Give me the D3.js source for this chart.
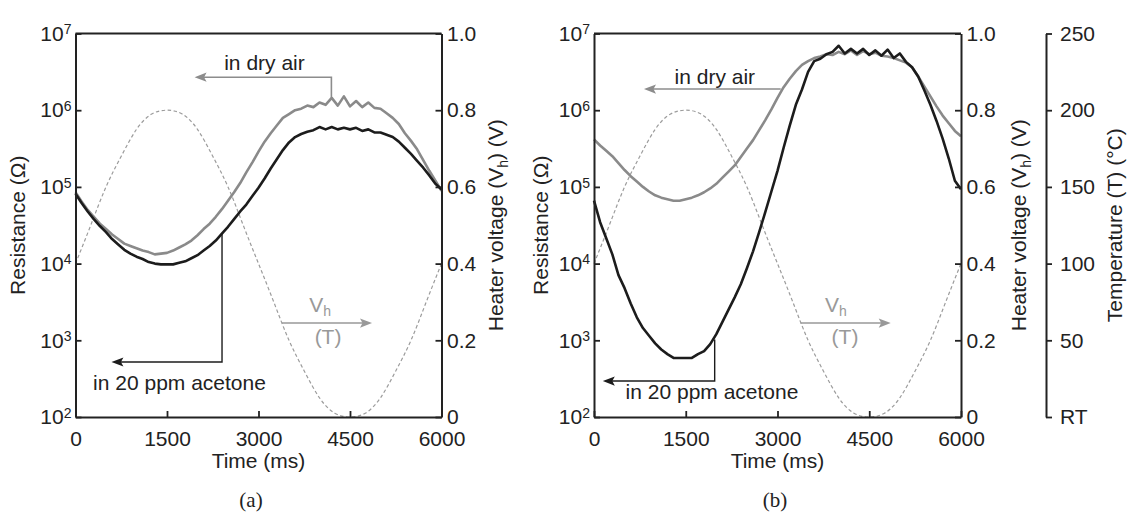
<!DOCTYPE html>
<html>
<head>
<meta charset="utf-8">
<script src="https://cdn.jsdelivr.net/npm/d3@7"></script>
<style>
  body { margin: 0; background: #fff; }
  svg { display: block; }
</style>
</head>
<body>
<svg id="chart" width="1129" height="525"></svg>
<script>
// ---------------- DATA ----------------
// time axis (ms) for resistance traces
const time = [0,100,200,300,400,500,600,700,800,900,
  1000,1100,1200,1300,1400,1500,1600,1700,1800,1900,
  2000,2100,2200,2300,2400,2500,2600,2700,2800,2900,
  3000,3100,3200,3300,3400,3500,3600,3700,3800,3900,
  4000,4100,4200,4300,4400,4500,4600,4700,4800,4900,
  5000,5100,5200,5300,5400,5500,5600,5700,5800,5900,
  6000];

// log10(Resistance / Ω), panel (a)
const airA_log = [4.93,4.81,4.70,4.61,4.52,4.45,4.38,4.32,4.26,4.23,
  4.20,4.17,4.15,4.12,4.13,4.14,4.17,4.21,4.25,4.30,
  4.37,4.45,4.52,4.61,4.71,4.82,4.93,5.05,5.19,5.32,
  5.46,5.59,5.70,5.80,5.90,5.95,6.00,6.02,6.06,6.04,
  6.10,6.07,6.16,6.06,6.18,6.05,6.12,6.04,6.10,6.03,
  6.02,5.96,5.90,5.82,5.70,5.60,5.49,5.35,5.21,5.08,
  4.95];
const acetoneA_log = [4.91,4.79,4.68,4.58,4.49,4.41,4.32,4.25,4.18,4.13,
  4.09,4.06,4.02,4.00,3.99,3.99,3.99,4.01,4.03,4.07,
  4.11,4.17,4.23,4.30,4.39,4.48,4.58,4.68,4.77,4.88,
  4.99,5.11,5.24,5.36,5.48,5.58,5.65,5.69,5.72,5.74,
  5.78,5.75,5.78,5.75,5.77,5.75,5.77,5.73,5.75,5.71,
  5.71,5.68,5.65,5.59,5.51,5.43,5.34,5.25,5.15,5.04,
  4.97];

// log10(Resistance / Ω), panel (b)
const airB_log = [5.62,5.54,5.47,5.40,5.31,5.22,5.14,5.07,5.00,4.94,
  4.89,4.86,4.84,4.82,4.82,4.84,4.86,4.89,4.93,4.98,
  5.04,5.12,5.20,5.28,5.39,5.50,5.61,5.74,5.87,6.01,
  6.16,6.30,6.41,6.51,6.59,6.64,6.68,6.70,6.73,6.72,
  6.76,6.73,6.78,6.72,6.77,6.73,6.75,6.71,6.70,6.68,
  6.65,6.62,6.56,6.44,6.31,6.18,6.05,5.93,5.83,5.73,
  5.66];
const acetoneB_log = [4.82,4.54,4.33,4.12,3.85,3.68,3.48,3.30,3.16,3.06,
  2.96,2.88,2.82,2.77,2.77,2.77,2.77,2.82,2.86,2.95,
  3.08,3.24,3.40,3.56,3.73,3.94,4.16,4.41,4.67,4.94,
  5.21,5.51,5.80,6.07,6.27,6.50,6.64,6.67,6.73,6.76,
  6.84,6.74,6.80,6.74,6.80,6.72,6.78,6.71,6.79,6.68,
  6.74,6.63,6.56,6.44,6.26,6.07,5.86,5.63,5.37,5.08,
  4.97];

// heater voltage (V)
const vTime = [0,250,500,750,1000,1250,1500,1750,2000,2250,2500,2750,3000,
  3250,3500,3750,4000,4250,4500,4750,5000,5250,5500,5750,6000];
const heaterV = [0.40,0.50,0.60,0.68,0.75,0.79,0.80,0.79,0.75,0.68,0.60,0.50,0.40,
  0.30,0.20,0.12,0.05,0.01,0.00,0.01,0.05,0.12,0.20,0.30,0.40];

// ticks
const timeTicks = [0,1500,3000,4500,6000];
const resTicks = [1e2,1e3,1e4,1e5,1e6,1e7];
const voltTicks = [0,0.2,0.4,0.6,0.8,1.0];
const voltLabels = ["0","0.2","0.4","0.6","0.8","1.0"];
const tempTicks = [0,50,100,150,200,250];
const tempLabels = ["RT","50","100","150","200","250"];

// annotation anchors (data coordinates: time ms, log10 R, or V)
const annotA = {
  dry:  {vx:4195, yFrom:6.17, yTo:6.43, tipT:1952, textT:3098, textY:6.524},
  ace:  {vx:2402, yFrom:4.39, yTo:2.717, tipT:589, textT:1705, textY:2.352},
  vh:   {fromT:3385, toT:4861, v:0.245, vhT:4010, vhV:0.274, tT:4140, tV:0.190}
};
const annotB = {
  dry:  {vx:3052, yFrom:6.276, yTo:6.276, tipT:817, textT:1976, textY:6.348},
  ace:  {vx:1973, yFrom:3.01, yTo:2.469, tipT:144, textT:1929, textY:2.235},
  vh:   {fromT:3379, toT:4851, v:0.245, vhT:3956, vhV:0.274, tT:4104, tV:0.190}
};

// ---------------- DRAW ----------------
const FONT = '"Liberation Sans", Arial, Helvetica, sans-serif';
const FS = 21;
const Y_TOP = 33.5, Y_BOT = 417;
const AX = '#222';
const svg = d3.select('#chart');
svg.append('rect').attr('width',1129).attr('height',525).attr('fill','#fff');

function styleAxis(g){
  g.attr('font-family', FONT).attr('font-size', FS);
  g.select('.domain').attr('stroke', AX).attr('stroke-width', 2);
  g.selectAll('.tick line').attr('stroke', AX).attr('stroke-width', 1.8);
  g.selectAll('.tick text').attr('fill', AX);
}

function arrowHead(g, tx, ty, dir, color){
  const L = 12, W = 4.6, N = 2.5;
  g.append('path')
    .attr('d', `M${tx},${ty}L${tx - dir*L},${ty - W}L${tx - dir*(L-N)},${ty}L${tx - dir*L},${ty + W}Z`)
    .attr('fill', color);
}

function panel(cfg){
  const g = svg.append('g');
  const x = d3.scaleLinear().domain([0,6000]).range([cfg.x0, cfg.x1]);
  const y = d3.scaleLog().domain([1e2,1e7]).range([Y_BOT, Y_TOP]);
  const yv = d3.scaleLinear().domain([0,1]).range([Y_BOT, Y_TOP]);
  const yl = v => y(Math.pow(10, v));

  // heater voltage (dashed)
  g.append('path')
    .datum(vTime.map((t,i)=>[t, heaterV[i]]))
    .attr('d', d3.line().x(d=>x(d[0])).y(d=>yv(d[1])).curve(d3.curveNatural))
    .attr('fill','none').attr('stroke','#9c9c9c').attr('stroke-width',1.2)
    .attr('stroke-dasharray','3.5,2.5');

  const rl = d3.line().x(d=>x(d[0])).y(d=>yl(d[1]));
  g.append('path').datum(time.map((t,i)=>[t, cfg.air[i]]))
    .attr('d', rl).attr('fill','none').attr('stroke','#8a8a8a')
    .attr('stroke-width',2.6).attr('stroke-linejoin','round');
  g.append('path').datum(time.map((t,i)=>[t, cfg.ace[i]]))
    .attr('d', rl).attr('fill','none').attr('stroke','#1c1c1c')
    .attr('stroke-width',2.6).attr('stroke-linejoin','round');

  // axes
  const gl = g.append('g').attr('transform',`translate(${cfg.x0},0)`)
    .call(d3.axisLeft(y).tickValues(resTicks).tickSize(-6).tickSizeOuter(0).tickPadding(4).tickFormat(()=>''));
  styleAxis(gl);
  gl.selectAll('.tick text').each(function(d){
    const t = d3.select(this);
    t.text(null);
    t.append('tspan').text('10');
    t.append('tspan').attr('font-size',14).attr('dy',-6.5).text(Math.round(Math.log10(d)));
  });

  const gb = g.append('g').attr('transform',`translate(0,${Y_BOT})`)
    .call(d3.axisBottom(x).tickValues(timeTicks).tickSize(-6).tickSizeOuter(0).tickPadding(14).tickFormat(d3.format('d')));
  styleAxis(gb);

  const gr = g.append('g').attr('transform',`translate(${cfg.x1},0)`)
    .call(d3.axisRight(yv).tickValues(voltTicks).tickSize(-6).tickSizeOuter(0).tickPadding(5.5)
      .tickFormat((d,i)=>voltLabels[i]));
  styleAxis(gr);

  // top frame
  g.append('line').attr('x1',cfg.x0).attr('x2',cfg.x1).attr('y1',Y_TOP).attr('y2',Y_TOP)
    .attr('stroke',AX).attr('stroke-width',2);

  // axis titles
  const midY = (Y_TOP + Y_BOT)/2;
  g.append('text').attr('transform',`translate(${cfg.leftTitleX},${midY}) rotate(-90)`)
    .attr('text-anchor','middle').attr('font-family',FONT).attr('font-size',FS).attr('fill',AX)
    .text('Resistance (Ω)');
  g.append('text').attr('x',(cfg.x0+cfg.x1)/2).attr('y',468)
    .attr('text-anchor','middle').attr('font-family',FONT).attr('font-size',FS).attr('fill',AX)
    .text('Time (ms)');
  const rt = g.append('text').attr('transform',`translate(${cfg.rightTitleX},${midY}) rotate(-90)`)
    .attr('text-anchor','middle').attr('font-family',FONT).attr('font-size',FS).attr('fill',AX);
  rt.append('tspan').text('Heater voltage (V');
  rt.append('tspan').attr('font-size',14).attr('dy',4.5).text('h');
  rt.append('tspan').attr('dy',-4.5).text(') (V)');

  // annotations
  const a = cfg.annot;
  // dry air
  const dryCol = '#8c8c8c';
  const dp = d3.path();
  dp.moveTo(x(a.dry.vx), yl(a.dry.yFrom));
  dp.lineTo(x(a.dry.vx), yl(a.dry.yTo));
  dp.lineTo(x(a.dry.tipT) + 8, yl(a.dry.yTo));
  g.append('path').attr('d', dp.toString()).attr('fill','none').attr('stroke',dryCol).attr('stroke-width',1.6);
  arrowHead(g, x(a.dry.tipT), yl(a.dry.yTo), -1, dryCol);
  g.append('text').attr('x',x(a.dry.textT)).attr('y',yl(a.dry.textY))
    .attr('text-anchor','middle').attr('font-family',FONT).attr('font-size',FS).attr('fill','#222')
    .text('in dry air');
  // acetone
  const ap = d3.path();
  ap.moveTo(x(a.ace.vx), yl(a.ace.yFrom));
  ap.lineTo(x(a.ace.vx), yl(a.ace.yTo));
  ap.lineTo(x(a.ace.tipT) + 8, yl(a.ace.yTo));
  g.append('path').attr('d', ap.toString()).attr('fill','none').attr('stroke','#1c1c1c').attr('stroke-width',1.4);
  arrowHead(g, x(a.ace.tipT), yl(a.ace.yTo), -1, '#1c1c1c');
  g.append('text').attr('x',x(a.ace.textT)).attr('y',yl(a.ace.textY))
    .attr('text-anchor','middle').attr('font-family',FONT).attr('font-size',FS).attr('fill','#222')
    .text('in 20 ppm acetone');
  // Vh (T)
  const vhCol = '#999';
  g.append('line').attr('x1',x(a.vh.fromT)).attr('x2',x(a.vh.toT) - 8)
    .attr('y1',yv(a.vh.v)).attr('y2',yv(a.vh.v)).attr('stroke',vhCol).attr('stroke-width',1.6);
  arrowHead(g, x(a.vh.toT), yv(a.vh.v), 1, vhCol);
  const vt = g.append('text').attr('x',x(a.vh.vhT)).attr('y',yv(a.vh.vhV))
    .attr('text-anchor','middle').attr('font-family',FONT).attr('font-size',FS).attr('fill',vhCol);
  vt.append('tspan').text('V');
  vt.append('tspan').attr('font-size',14).attr('dy',4).text('h');
  g.append('text').attr('x',x(a.vh.tT)).attr('y',yv(a.vh.tV))
    .attr('text-anchor','middle').attr('font-family',FONT).attr('font-size',FS).attr('fill',vhCol)
    .text('(T)');

  // panel label
  g.append('text').attr('x',cfg.labelX).attr('y',507)
    .attr('text-anchor','middle').attr('font-family','"Liberation Serif", "Times New Roman", serif')
    .attr('font-size',FS).attr('fill','#222').text(cfg.label);

  return {x, y, yv};
}

panel({x0:75.5, x1:441.5, air:airA_log, ace:acetoneA_log, annot:annotA,
  leftTitleX:25, rightTitleX:503, labelX:251, label:'(a)'});
panel({x0:594, x1:961, air:airB_log, ace:acetoneB_log, annot:annotB,
  leftTitleX:548, rightTitleX:1026, labelX:775, label:'(b)'});

// temperature axis for panel (b)
const tScale = d3.scaleLinear().domain([0,250]).range([Y_BOT, Y_TOP]);
const gt = svg.append('g').attr('transform','translate(1046,0)')
  .call(d3.axisRight(tScale).tickValues(tempTicks).tickSize(6).tickSizeOuter(0).tickPadding(8)
    .tickFormat((d,i)=>tempLabels[i]));
styleAxis(gt);
svg.append('text').attr('transform',`translate(1122,${(Y_TOP+Y_BOT)/2}) rotate(-90)`)
  .attr('text-anchor','middle').attr('font-family',FONT).attr('font-size',FS).attr('fill',AX)
  .text('Temperature (T) (°C)');
</script>
</body>
</html>
